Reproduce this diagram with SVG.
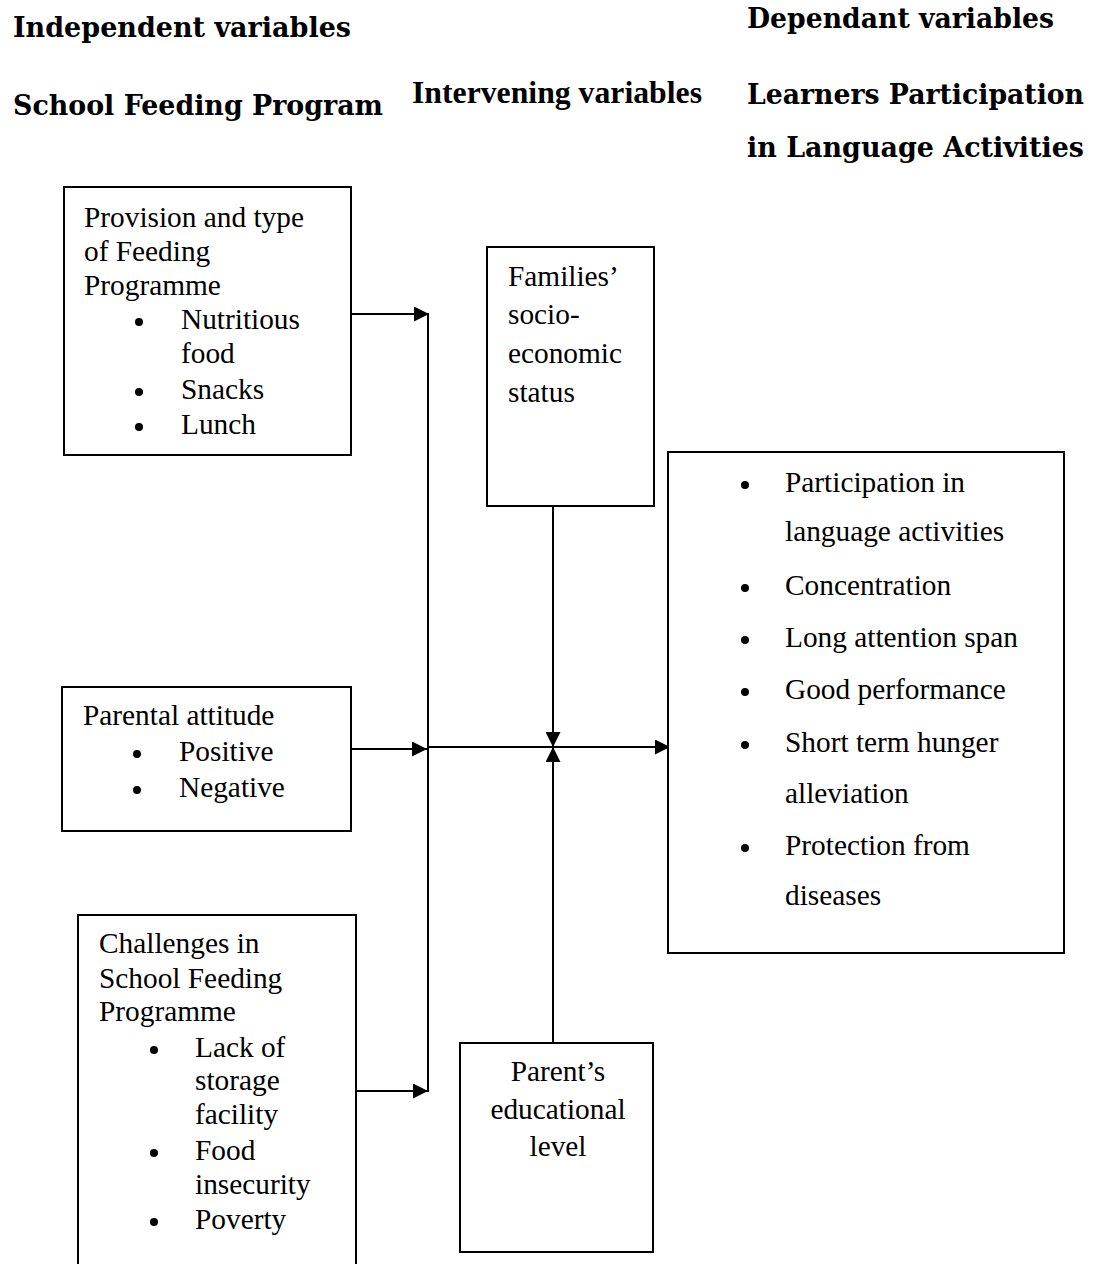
<svg xmlns="http://www.w3.org/2000/svg" width="1102" height="1264" viewBox="0 0 1102 1264">
  <style>
    .box { fill: #ffffff; stroke: #000000; stroke-width: 2; }
    .head { font-family: "DejaVu Serif", "Liberation Serif", serif; font-weight: bold; font-size: 27px; fill: #000000; }
    .head2 { font-family: "Liberation Serif", "Times New Roman", serif; font-weight: bold; font-size: 31px; fill: #000000; }
    .t { font-family: "Liberation Serif", "Times New Roman", serif; font-size: 29.33px; fill: #000000; }
    .dot { fill: #000000; }
    .c { text-anchor: middle; }
    .link { fill: none; stroke: #000000; stroke-width: 2; }
  </style>
  <defs>
    <marker id="arrow" viewBox="0 0 10 10" refX="10" refY="5" markerUnits="userSpaceOnUse" markerWidth="16" markerHeight="15" orient="auto">
      <path d="M0,0 L10,5 L0,10 z" fill="#000000"/>
    </marker>
  </defs>
  <rect width="1102" height="1264" fill="#ffffff"/>

  <!-- column headings -->
  <g id="headings">
    <text class="head" x="13" y="37" textLength="338" lengthAdjust="spacingAndGlyphs">Independent variables</text>
    <text class="head" x="13" y="115" textLength="370" lengthAdjust="spacingAndGlyphs">School Feeding Program</text>
    <text class="head2" x="412" y="103" textLength="290" lengthAdjust="spacingAndGlyphs">Intervening variables</text>
    <text class="head" x="747" y="28" textLength="307" lengthAdjust="spacingAndGlyphs">Dependant variables</text>
    <text class="head" x="747" y="104" textLength="337" lengthAdjust="spacingAndGlyphs">Learners Participation</text>
    <text class="head" x="747" y="157" textLength="337" lengthAdjust="spacingAndGlyphs">in Language Activities</text>
  </g>

  <!-- connectors -->
  <g id="connectors">
    <path class="link" d="M347,314 H429" marker-end="url(#arrow)"/>
    <path class="link" d="M428,313 V1092"/>
    <path class="link" d="M345,749 H427" marker-end="url(#arrow)"/>
    <path class="link" d="M356,1091 H428" marker-end="url(#arrow)"/>
    <path class="link" d="M428,747 H670" marker-end="url(#arrow)"/>
    <path class="link" d="M553,506 V747" marker-end="url(#arrow)"/>
    <path class="link" d="M553,1043 V747" marker-end="url(#arrow)"/>
  </g>

  <!-- independent: provision and type -->
  <g id="provision">
    <rect class="box" x="64" y="187" width="287" height="268"/>
    <text class="t" x="84" y="227">Provision and type</text>
    <text class="t" x="84" y="261">of Feeding</text>
    <text class="t" x="84" y="295">Programme</text>
    <circle class="dot" cx="139" cy="322" r="4"/>
    <text class="t" x="181" y="329">Nutritious</text>
    <text class="t" x="181" y="363">food</text>
    <circle class="dot" cx="139" cy="392" r="4"/>
    <text class="t" x="181" y="399">Snacks</text>
    <circle class="dot" cx="139" cy="427" r="4"/>
    <text class="t" x="181" y="434">Lunch</text>
  </g>

  <!-- independent: parental attitude -->
  <g id="parental-attitude">
    <rect class="box" x="62" y="687" width="289" height="144"/>
    <text class="t" x="83" y="725">Parental attitude</text>
    <circle class="dot" cx="137" cy="754" r="4"/>
    <text class="t" x="179" y="761">Positive</text>
    <circle class="dot" cx="137" cy="790" r="4"/>
    <text class="t" x="179" y="797">Negative</text>
  </g>

  <!-- independent: challenges -->
  <g id="challenges">
    <rect class="box" x="78" y="915" width="278" height="420"/>
    <text class="t" x="99" y="953">Challenges in</text>
    <text class="t" x="99" y="988">School Feeding</text>
    <text class="t" x="99" y="1021">Programme</text>
    <circle class="dot" cx="154" cy="1050" r="4"/>
    <text class="t" x="195" y="1057">Lack of</text>
    <text class="t" x="195" y="1090">storage</text>
    <text class="t" x="195" y="1124">facility</text>
    <circle class="dot" cx="154" cy="1153" r="4"/>
    <text class="t" x="195" y="1160">Food</text>
    <text class="t" x="195" y="1194">insecurity</text>
    <circle class="dot" cx="154" cy="1222" r="4"/>
    <text class="t" x="195" y="1229">Poverty</text>
  </g>

  <!-- intervening: families' socio-economic status -->
  <g id="families">
    <rect class="box" x="487" y="247" width="167" height="259"/>
    <text class="t" x="508" y="286">Families’</text>
    <text class="t" x="508" y="324">socio-</text>
    <text class="t" x="508" y="363">economic</text>
    <text class="t" x="508" y="402">status</text>
  </g>

  <!-- intervening: parent's educational level -->
  <g id="parent-education">
    <rect class="box" x="460" y="1043" width="193" height="209"/>
    <text class="t c" x="558" y="1081">Parent’s</text>
    <text class="t c" x="558" y="1119">educational</text>
    <text class="t c" x="558" y="1156">level</text>
  </g>

  <!-- dependent: outcomes -->
  <g id="outcomes">
    <rect class="box" x="668" y="452" width="396" height="501"/>
    <circle class="dot" cx="745" cy="485" r="4"/>
    <text class="t" x="785" y="492">Participation in</text>
    <text class="t" x="785" y="541">language activities</text>
    <circle class="dot" cx="745" cy="588" r="4"/>
    <text class="t" x="785" y="595">Concentration</text>
    <circle class="dot" cx="745" cy="640" r="4"/>
    <text class="t" x="785" y="647">Long attention span</text>
    <circle class="dot" cx="745" cy="692" r="4"/>
    <text class="t" x="785" y="699">Good performance</text>
    <circle class="dot" cx="745" cy="745" r="4"/>
    <text class="t" x="785" y="752">Short term hunger</text>
    <text class="t" x="785" y="803">alleviation</text>
    <circle class="dot" cx="745" cy="848" r="4"/>
    <text class="t" x="785" y="855">Protection from</text>
    <text class="t" x="785" y="905">diseases</text>
  </g>
</svg>
